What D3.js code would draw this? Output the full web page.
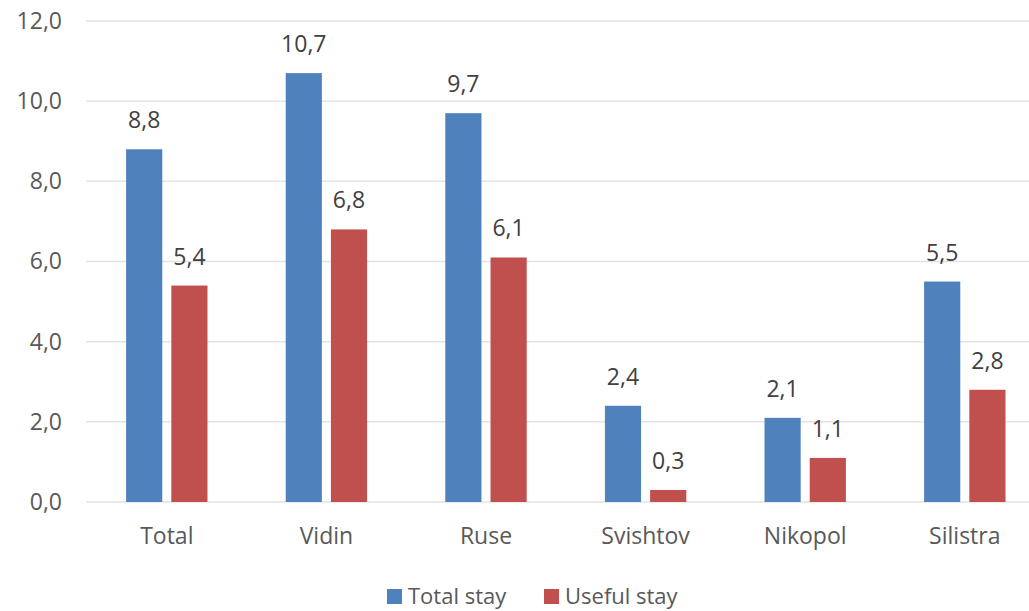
<!DOCTYPE html>
<html>
<head>
<meta charset="utf-8">
<script src="https://cdn.jsdelivr.net/npm/d3@7"></script>
<style>
  body { margin: 0; background: #fff; }
  text { font-family: "Open Sans", sans-serif; }
</style>
</head>
<body>
<div id="chart-area"></div>
<script>
// data
var categories = ["Total", "Vidin", "Ruse", "Svishtov", "Nikopol", "Silistra"];
var seriesNames = ["Total stay", "Useful stay"];
var totalStay = [8.8, 10.7, 9.7, 2.4, 2.1, 5.5];
var usefulStay = [5.4, 6.8, 6.1, 0.3, 1.1, 2.8];
var yTicks = [0, 2, 4, 6, 8, 10, 12];
var colors = ["#4F81BD", "#C0504D"];

var width = 1029,
	height = 611;

var svg = d3.select("#chart-area").append("svg")
	.attr("width", width)
	.attr("height", height);

var fmt = function(v) { return d3.format(".1f")(v).replace(".", ","); };

var x0 = d3.scaleBand()
	.domain(categories)
	.range([87, 87 + 6 * 159.6])
	.paddingInner(0.49)
	.paddingOuter(0.245);

var x1 = d3.scaleBand()
	.domain(seriesNames)
	.range([0, x0.bandwidth()])
	.paddingInner(0.2);

var y = d3.scaleLinear()
	.domain([0, 12])
	.range([502, 21]);

var color = d3.scaleOrdinal().domain(seriesNames).range(colors);

// gridlines
svg.append("g").selectAll("line")
	.data(yTicks)
	.enter()
	.append("line")
	.attr("x1", 86)
	.attr("x2", width)
	.attr("y1", d => y(d))
	.attr("y2", d => y(d))
	.attr("stroke", "#e3e3e3")
	.attr("stroke-width", 1.5);

// y axis
var yAxis = d3.axisLeft(y).tickValues(yTicks).tickFormat(fmt).tickSize(0).tickPadding(0);
var yAxisGroup = svg.append("g")
	.attr("transform", "translate(62,0)")
	.call(yAxis);
yAxisGroup.select(".domain").remove();
yAxisGroup.selectAll("text")
	.attr("fill", "#595959")
	.style("font-size", "23px")
	.style("font-family", "'Open Sans', sans-serif");

// x axis
var xAxis = d3.axisBottom(x0).tickSize(0).tickPadding(0);
var xAxisGroup = svg.append("g")
	.attr("transform", "translate(0,528)")
	.call(xAxis);
xAxisGroup.select(".domain").remove();
xAxisGroup.selectAll("text")
	.attr("fill", "#595959")
	.attr("dy", "0.71em")
	.style("font-size", "23px")
	.style("font-family", "'Open Sans', sans-serif");

// bars
var rows = categories.map(function(c, i) {
	return {cat: c, values: [
		{name: seriesNames[0], value: totalStay[i]},
		{name: seriesNames[1], value: usefulStay[i]}
	]};
});

var groups = svg.selectAll(".group")
	.data(rows)
	.enter()
	.append("g")
	.attr("class", "group")
	.attr("transform", d => "translate(" + x0(d.cat) + ",0)");

groups.selectAll("rect")
	.data(d => d.values)
	.enter()
	.append("rect")
	.attr("x", d => x1(d.name))
	.attr("y", d => y(d.value))
	.attr("width", x1.bandwidth())
	.attr("height", d => y(0) - y(d.value))
	.attr("fill", d => color(d.name));

groups.selectAll(".val")
	.data(d => d.values)
	.enter()
	.append("text")
	.attr("class", "val")
	.attr("x", d => x1(d.name) + x1.bandwidth() / 2)
	.attr("y", d => y(d.value) - 21)
	.attr("text-anchor", "middle")
	.attr("fill", "#404040")
	.style("font-size", "23px")
	.text(d => fmt(d.value));

// legend
var legendX = [387, 544];
var legend = svg.selectAll(".legend")
	.data(seriesNames)
	.enter()
	.append("g")
	.attr("class", "legend")
	.attr("transform", (d, i) => "translate(" + legendX[i] + ",589)");

legend.append("rect")
	.attr("width", 15)
	.attr("height", 15)
	.attr("fill", d => color(d));

legend.append("text")
	.attr("x", 21)
	.attr("y", 15)
	.attr("fill", "#595959")
	.style("font-size", "22px")
	.text(d => d);
</script>
</body>
</html>
